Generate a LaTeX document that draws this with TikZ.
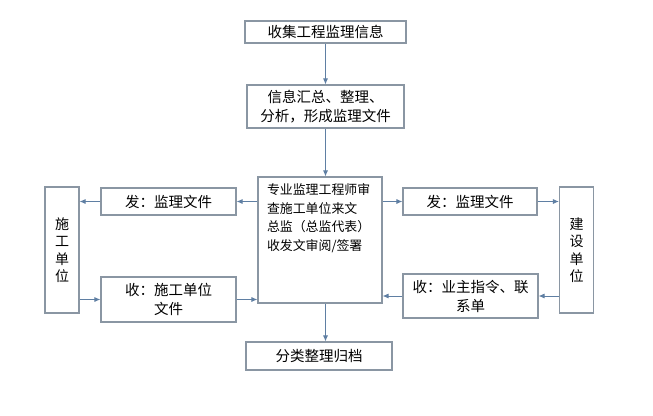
\documentclass[tikz,border=0pt]{standalone}
\usepackage{fontspec}
\newfontfamily\cjk{Noto Sans CJK SC}
\usepackage{tikz}
\usetikzlibrary{arrows.meta,positioning}
\definecolor{boxgray}{HTML}{8A96A3}
\definecolor{flowblue}{HTML}{5F7FA3}
\tikzset{
  box/.style={draw=boxgray,line width=1.1pt,fill=white,align=center,inner sep=0pt,font=\cjk\fontsize{14.5}{19}\selectfont},
  unitbox/.style={box,minimum width=34pt,minimum height=126pt,font=\cjk\fontsize{14}{17.5}\selectfont},
  flow/.style={-{Latex[length=6pt,width=5pt]},line width=.9pt,draw=flowblue},
}

\begin{document}
\begin{tikzpicture}[x=1pt,y=-1pt]
    \fill[white] (0,0) rectangle (653,415);
    \node[box,minimum width=161pt,minimum height=22pt] (collect) at (325.5,32) {收集工程监理信息};
    \node[box,minimum width=157pt,minimum height=43pt] (sum) at (325.5,106.5) {信息汇总、整理、\\分析，形成监理文件};
    \node[box,minimum width=124pt,minimum height=126pt] (review) at (320,240)
      {\parbox[c][112pt][t]{106pt}{\raggedright\fontsize{12.9}{18.5}\selectfont
       专业监理工程师审\\查施工单位来文\\总监（总监代表）\\收发文审阅/签署}};
    \node[unitbox] (cons) at (62,250) {施\\工\\单\\位};
    \node[unitbox] (owner) at (576.5,250) {建\\设\\单\\位};
    \node[box,minimum width=135pt,minimum height=27pt] (cfa) at (168.5,201.5) {发：监理文件};
    \node[box,minimum width=135pt,minimum height=45pt] (cshou) at (168.5,299.5) {收：施工单位\\文件};
    \node[box,minimum width=134pt,minimum height=27pt] (ofa) at (470,201.5) {发：监理文件};
    \node[box,minimum width=135pt,minimum height=44pt] (oshou) at (470.5,296) {收：业主指令、联\\系单};
    \node[box,minimum width=146pt,minimum height=28pt] (archive) at (319,356) {分类整理归档};
    \draw[flow] (collect) -- (sum);
    \draw[flow] (sum.south) -- (sum.south |- review.north);
    \draw[flow] (review.south -| sum.south) -- (archive.north -| sum.south);
    \draw[flow] (review.west |- cfa) -- (cfa.east);
    \draw[flow] (cfa.west) -- (cons.east |- cfa);
    \draw[flow] (cons.east |- cshou) -- (cshou.west);
    \draw[flow] (cshou.east) -- (review.west |- cshou);
    \draw[flow] (review.east |- ofa) -- (ofa.west);
    \draw[flow] (ofa.east) -- (owner.west |- ofa);
    \draw[flow] (owner.west |- oshou) -- (oshou.east);
    \draw[flow] (oshou.west) -- (review.east |- oshou);
  \end{tikzpicture}
\end{document}
